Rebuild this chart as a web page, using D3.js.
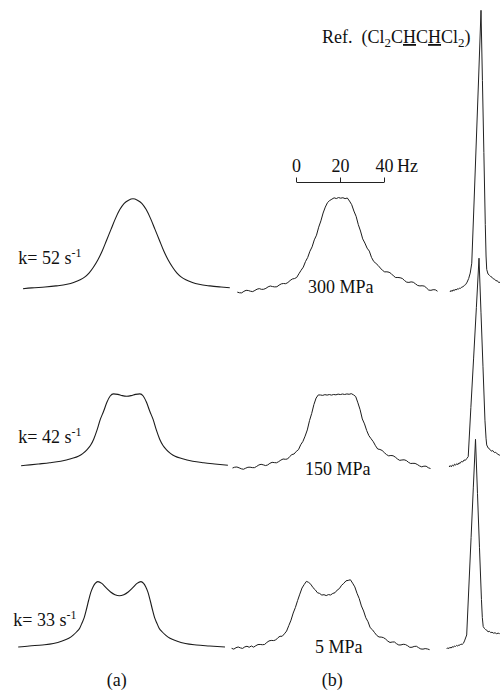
<!DOCTYPE html>
<html>
<head>
<meta charset="utf-8">
<script src="https://cdn.jsdelivr.net/npm/d3@7"></script>
<style>
  html, body { margin: 0; padding: 0; background: #fff; }
  svg { display: block; }
  text { font-family: "Liberation Serif", "Times New Roman", serif; fill: #111; white-space: pre; }
</style>
</head>
<body>
<div id="chart"></div>
<script>
// ---------------- DATA ----------------
const kValues = [52, 42, 33];                       // exchange rates, s^-1
const pressures = ["300 MPa", "150 MPa", "5 MPa"];  // experimental conditions
const panelLetters = ["(a)", "(b)"];
const scaleTicks = [0, 20, 40];                      // Hz scale bar
const refTitle = "Ref.";

// (a) simulated lineshapes: [frequency offset (Hz), intensity]
const sim52 = [[-50,0],[-46,1],[-40,2],[-35,3.2],[-30,5],[-27,7],[-24,10],[-22,13],[-20,17.5],[-18,24],[-16,32],[-14,42],[-12,54],[-10,66],[-8,78],[-6,88],[-4,95],[-2,98.5],[0,100],[2,98.5],[4,95],[6,88],[8,78],[10,66],[12,54],[14,42],[16,32],[18,24],[20,17.5],[22,13],[24,10],[27,7],[30,5],[35,3.2],[40,2],[44,1.2]];
const sim42 = [[-48,0.5],[-44,1.5],[-40,2.5],[-35,3.8],[-30,5.5],[-25,8.5],[-22,11],[-20,14],[-18,18.5],[-16.5,23],[-15,30],[-13.5,40],[-12,52],[-10.5,61],[-9,71],[-7.5,78],[-6,80.4],[-4,79.8],[-2,78.4],[0,77.8],[2,78.4],[4,79.8],[6,80.4],[7.5,78],[9,71],[10.5,61],[12,52],[13.5,40],[15,30],[16.5,23],[18,18.5],[20,14],[22,11],[25,8.5],[30,5.5],[35,3.8],[40,2.5],[46,1.1]];
const sim33 = [[-46,0.3],[-41,1.5],[-35,2.6],[-30,4.2],[-26,7],[-23,10],[-21,13.5],[-19.5,17],[-18,21.5],[-17,27],[-16,33],[-15,42],[-14,52],[-13,61],[-12,67],[-11,71],[-9.8,73],[-8,71],[-6,66],[-4,61.5],[-2,58.5],[0,57.3],[2,58.5],[4,61.5],[6,66],[8,71],[9.8,73],[11,71],[12,67],[13,61],[14,52],[15,42],[16,33],[17,27],[18,21.5],[19.5,17],[21,13.5],[23,10],[26,7],[30,4.2],[35,2.6],[41,1.5],[48,0.3]];

// (b) experimental spectra, sampled every 1 Hz
const expFreq300 = d3.range(-47, 45);
const exp300 = [0.4,-0.3,-0.4,1.3,2.4,2.2,1.4,1.0,2.3,3.7,
  4.3,3.5,3.6,4.6,6.3,7.2,6.6,6.2,6.4,8.2,
  9.6,10.0,9.8,11.1,13.3,15.0,15.5,16.7,20.8,24.7,
  28.2,34.4,38.9,45.8,50.7,58.5,63.7,72.6,79.6,88.3,
  94.9,99.9,102.2,103.7,105.2,104.4,105.5,104.8,105.3,104.3,
  105.0,101.6,97.6,90.5,84.7,75.4,68.3,59.6,54.9,49.3,
  46.0,39.0,34.5,32.4,30.1,27.2,24.6,22.9,23.0,22.5,
  20.9,18.4,16.6,16.7,16.4,15.6,13.3,11.5,11.2,11.8,
  11.4,9.6,7.8,7.3,7.5,7.1,5.1,2.7,2.4,3.1,
  3.0,1.4];
const expFreq150 = d3.range(-47, 44);
const exp150 = [0.0,0.9,1.1,0.2,-0.9,-1.4,-0.2,0.8,0.9,0.4,
  0.4,1.8,3.4,4.1,3.5,2.7,3.4,5.2,6.3,6.0,
  5.8,7.1,8.8,10.0,9.7,10.0,12.7,14.9,15.6,18.5,
  20.4,25.8,29.5,35.4,42.3,52.6,60.6,70.5,77.7,81.2,
  81.1,80.7,81.5,81.0,81.6,81.0,81.7,81.3,82.1,81.6,
  82.2,81.7,82.3,81.9,82.6,81.3,79.4,72.4,64.8,54.5,
  49.0,41.6,35.9,32.5,29.2,24.7,21.1,20.6,19.5,17.1,
  14.9,13.5,13.9,13.6,12.1,10.0,8.5,8.9,9.1,8.3,
  6.3,5.0,5.2,5.1,3.9,2.3,1.3,2.0,2.0,0.3,
  -0.6];
const expFreq5 = d3.range(-44, 47);
const exp5 = [1.3,0.4,2.0,2.8,1.8,1.2,2.9,3.6,2.5,3.9,
  2.6,4.2,5.5,5.6,5.3,5.6,7.8,9.5,10.1,9.9,
  10.5,13.0,14.7,14.7,17.4,20.5,26.6,32.6,40.5,46.7,
  54.4,61.5,68.3,72.2,75.7,74.6,72.5,68.7,66.4,63.1,
  62.3,60.5,60.9,59.9,61.0,60.6,62.3,63.1,66.0,67.7,
  71.4,73.5,76.3,76.8,77.5,73.7,69.6,62.5,56.7,48.4,
  42.8,35.3,30.9,24.2,22.0,18.7,15.6,13.9,13.8,13.2,
  11.6,9.3,7.8,8.3,8.4,6.4,5.0,5.1,5.8,5.5,
  4.2,2.4,2.5,3.4,3.6,2.0,0.6,0.4,1.0,0.6,
  -0.2];

// reference (Cl2CHCHCl2) peaks: [offset (Hz), intensity]
const ref300 = [[-14.1,0],[-13.6,1.8],[-13.2,0.6],[-12.7,2.4],[-12.2,1.4],[-11.8,3.0],[-11.3,2.2],[-10.8,3.6],[-10.3,3.0],[-9.8,4.4],[-9.3,4.0],[-8.8,5.4],[-8.2,5.8],[-7.6,7.2],[-7.0,8.2],[-6.3,11],[-5.6,15],[-4.9,21],[-4.2,32],[-3.15,100],[-2.1,170],[-1.05,240],[0,313],[0.65,235],[1.3,155],[1.95,75],[2.3,40],[2.6,25],[3.2,20],[3.8,18.6],[4.4,17.2],[5,16.4],[5.6,14.6],[6.2,14.2],[6.8,12.4],[7.4,12.6],[8,10.6],[8.6,10.8],[9.2,9]];
const ref150 = [[-13.6,0],[-13.1,1.6],[-12.6,0.2],[-12.1,2.2],[-11.6,1.0],[-11.1,3.2],[-10.6,2.0],[-10.1,3.8],[-9.6,2.6],[-9.1,4.6],[-8.6,4.0],[-8.0,6.2],[-7.4,5.6],[-6.8,7.8],[-6.2,7.4],[-5.5,9.6],[-4.9,11.5],[-3.7,66],[-2.45,121],[-1.2,177],[0,232],[0.9,172],[1.8,112],[2.7,52],[3.2,32],[3.5,24.5],[4.2,21],[5,19.6],[5.6,17.6],[6.3,18.2],[7,16],[7.6,16.4],[8.3,14.5],[9.2,13.3],[9.8,12.8]];
const ref5 = [[-13.1,0],[-12.6,1.4],[-12.1,0.4],[-11.6,2.0],[-11.1,1.0],[-10.6,2.6],[-10.1,1.8],[-9.6,3.4],[-9.1,2.8],[-8.6,4.0],[-8.1,3.2],[-7.6,4.6],[-7.1,4.2],[-6.6,5.4],[-6.0,5.2],[-5.5,6.3],[-5.0,9],[-4.0,15.6],[-3.0,70],[-2.0,124],[-1.0,179],[0,233],[0.9,173],[1.8,113],[2.7,55],[3.1,35],[3.5,25],[4.0,23],[4.6,21.5],[5.1,21],[5.7,19],[6.3,19.8],[6.9,18.2],[7.5,18.6],[8.2,17.6],[8.9,18],[9.6,17],[10.3,17.6],[11,17]];

// ---------------- LAYOUT ----------------
const W = 500, H = 692;
const pxPerHz = 2.2, pxPerUnit = 0.9;
const aLayout = [{cx:133, base:288.8},{cx:126.7, base:466.2},{cx:119.4, base:647.3}];
const bLayout = [{cx:340.7, base:292.5},{cx:335.9, base:468},{cx:328.4, base:649.5}];
const cLayout = [{cx:481, base:292},{cx:479, base:467},{cx:475.5, base:649}];
const kLabelPos = [{x:18.3, y:264},{x:18.3, y:443.3},{x:13.3, y:625.7}];
const pLabelPos = [{x:308, y:292.7},{x:305, y:475},{x:315, y:653.3}];
const letterPos = [{x:106.7, y:686},{x:321.7, y:686}];

const svg = d3.select("#chart").append("svg").attr("width", W).attr("height", H);
svg.append("rect").attr("width", W).attr("height", H).attr("fill", "#fff");

function scalesFor(l) {
  const x = d3.scaleLinear().domain([-50, 50]).range([l.cx - 50 * pxPerHz, l.cx + 50 * pxPerHz]);
  const y = d3.scaleLinear().domain([0, 100]).range([l.base, l.base - 100 * pxPerUnit]);
  return {x, y};
}
function draw(points, l, curve, width, color) {
  const s = scalesFor(l);
  svg.append("path").datum(points)
    .attr("fill", "none").attr("stroke", color).attr("stroke-width", width)
    .attr("stroke-linejoin", "round")
    .attr("d", d3.line().x(d => s.x(d[0])).y(d => s.y(d[1])).curve(curve));
}

const sims = [sim52, sim42, sim33];
const exps = [[expFreq300, exp300], [expFreq150, exp150], [expFreq5, exp5]];
const refs = [ref300, ref150, ref5];

sims.forEach((d, i) => draw(d, aLayout[i], d3.curveMonotoneX, 1.1, "#1c1c1c"));
exps.forEach(([f, v], i) => draw(f.map((hz, j) => [hz, v[j]]), bLayout[i], d3.curveLinear, 1.0, "#1c1c1c"));
refs.forEach((d, i) => draw(d, cLayout[i], d3.curveLinear, 1.0, "#222"));

// k labels
kValues.forEach((k, i) => {
  const t = svg.append("text").attr("x", kLabelPos[i].x).attr("y", kLabelPos[i].y).attr("font-size", 18);
  t.append("tspan").text("k= " + k + " s");
  t.append("tspan").attr("font-size", 12).attr("dy", -7).text("-1");
});
// pressure labels
pressures.forEach((p, i) => {
  svg.append("text").attr("x", pLabelPos[i].x).attr("y", pLabelPos[i].y).attr("font-size", 18).text(p);
});
// panel letters
panelLetters.forEach((p, i) => {
  svg.append("text").attr("x", letterPos[i].x).attr("y", letterPos[i].y).attr("font-size", 18).text(p);
});

// scale bar
const hz = d3.scaleLinear().domain([0, 40]).range([296, 296 + 40 * pxPerHz]);
const axis = d3.axisTop(hz).tickValues(scaleTicks).tickSize(4.5).tickSizeOuter(0).tickPadding(6).tickFormat(d3.format("d"));
const ag = svg.append("g").attr("transform", "translate(0,182)").call(axis);
ag.select(".domain").attr("stroke", "#222").attr("stroke-width", 1);
ag.selectAll(".tick line").attr("stroke", "#222").attr("stroke-width", 1);
ag.selectAll(".tick text").attr("font-family", "Liberation Serif").attr("font-size", 18).attr("fill", "#111");
svg.append("text").attr("x", hz(40) + 13).attr("y", 171.5).attr("font-size", 18).text("Hz");

// reference title
const tt = svg.append("text").attr("x", 322).attr("y", 43).attr("font-size", 18);
tt.append("tspan").text(refTitle + "  (Cl");
tt.append("tspan").attr("font-size", 13).attr("dy", 4).text("2");
tt.append("tspan").attr("dy", -4).text("C");
tt.append("tspan").attr("text-decoration", "underline").text("H");
tt.append("tspan").text("C");
tt.append("tspan").attr("text-decoration", "underline").text("H");
tt.append("tspan").text("Cl");
tt.append("tspan").attr("font-size", 13).attr("dy", 4).text("2");
tt.append("tspan").attr("dy", -4).text(")");
</script>
</body>
</html>
